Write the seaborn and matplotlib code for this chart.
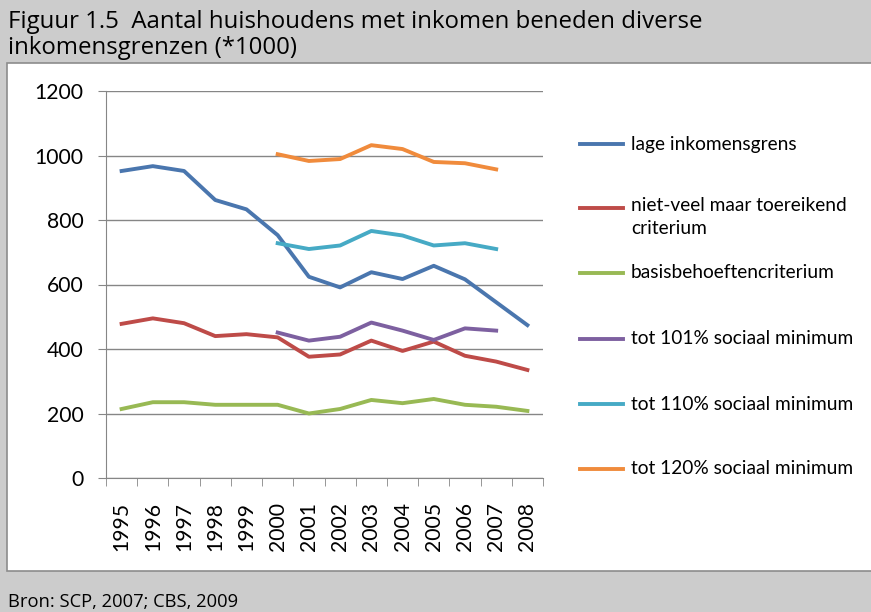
import matplotlib
matplotlib.use("Agg")
import matplotlib.pyplot as plt
from matplotlib.lines import Line2D
from matplotlib.patches import Rectangle
import seaborn as sns
import pandas as pd

years = list(range(1995, 2009))
later_years = list(range(2000, 2008))

lage = [952, 967, 952, 862, 833, 753, 624, 591, 638, 617, 658, 616, 545, 474]
niet_veel = [478, 495, 480, 440, 446, 436, 376, 383, 426, 394, 423, 379, 361, 335]
basis = [214, 235, 235, 227, 227, 227, 200, 214, 242, 232, 245, 227, 221, 208]
tot101 = [451, 426, 438, 482, 457, 428, 464, 457]
tot110 = [728, 710, 721, 766, 752, 721, 728, 710]
tot120 = [1004, 983, 989, 1032, 1020, 980, 976, 957]

labels = ["lage inkomensgrens", "niet-veel maar toereikend\ncriterium",
          "basisbehoeftencriterium", "tot 101% sociaal minimum",
          "tot 110% sociaal minimum", "tot 120% sociaal minimum"]
colors = ["#4A76AE", "#BE4B48", "#98B954", "#7D60A0", "#46AAC5", "#F08B3C"]

rows = []
for lab, xs, vals in zip(labels,
                         [years, years, years, later_years, later_years, later_years],
                         [lage, niet_veel, basis, tot101, tot110, tot120]):
    for x, v in zip(xs, vals):
        rows.append({"jaar": x, "aantal": v, "reeks": lab})
df = pd.DataFrame(rows)

W, H = 871, 612
fig = plt.figure(figsize=(W / 100, H / 100), dpi=100)
fig.patch.set_facecolor("#cccccc")
fig.patches.append(Rectangle((7 / W, 1 - 571 / H), 1, (571 - 63) / H,
                             transform=fig.transFigure, facecolor="white",
                             edgecolor="#8c8c8c", linewidth=1.2, zorder=-10))

ax = fig.add_axes([106 / W, 1 - 478 / H, (543 - 106) / W, (478 - 91) / H])
ax.set_zorder(1)
sns.lineplot(data=df, x="jaar", y="aantal", hue="reeks", hue_order=labels,
             palette=colors, linewidth=2.8, legend=False, ax=ax)

fnt = "Lato"
fs = 13.8
tfs = 15.2
ax.set_xlim(1994.5, 2008.5)
ax.set_ylim(0, 1200)
ax.set_yticks(range(0, 1201, 200))
ax.set_xticks(years)
ax.set_xticklabels([str(y) for y in years], rotation=90, family=fnt, fontsize=tfs)
ax.set_xticks([y + 0.5 for y in range(1994, 2009)], minor=True)
ax.tick_params(axis="x", which="major", length=0, pad=17)
ax.tick_params(axis="x", which="minor", length=6, color="#868686", direction="out")
ax.tick_params(axis="y", length=6, color="#868686", pad=10)
for t in ax.get_yticklabels():
    t.set_family(fnt)
    t.set_fontsize(tfs)
ax.grid(axis="y", color="#868686", linewidth=1)
ax.set_axisbelow(True)
for s in ["top", "right"]:
    ax.spines[s].set_visible(False)
for s in ["left", "bottom"]:
    ax.spines[s].set_color("#868686")
ax.set_xlabel("")
ax.set_ylabel("")
ax.set_facecolor("white")

leg_y = [144, 208, 273, 339, 404, 469]
for lab, c, y in zip(labels, colors, leg_y):
    fig.add_artist(Line2D([580 / W, 623 / W], [1 - y / H] * 2,
                          transform=fig.transFigure, color=c, linewidth=2.8))
    if "\n" in lab:
        fig.text(631 / W, 1 - (y - 11) / H, lab, family=fnt, fontsize=fs,
                 va="top", ha="left", linespacing=1.4)
    else:
        fig.text(631 / W, 1 - y / H, lab, family=fnt, fontsize=fs,
                 va="center", ha="left")

tfont = ["Open Sans"]
fig.text(8 / W, 1 - 22 / H, "Figuur 1.5  Aantal huishoudens met inkomen beneden diverse",
         family=tfont, fontsize=17.3, va="center", ha="left")
fig.text(8 / W, 1 - 48 / H, "inkomensgrenzen (*1000)",
         family=tfont, fontsize=17.3, va="center", ha="left")
fig.text(8 / W, 1 - 602 / H, "Bron: SCP, 2007; CBS, 2009",
         family=tfont, fontsize=13.2, va="center", ha="left")

fig.savefig("out.png", dpi=100, facecolor=fig.get_facecolor())
